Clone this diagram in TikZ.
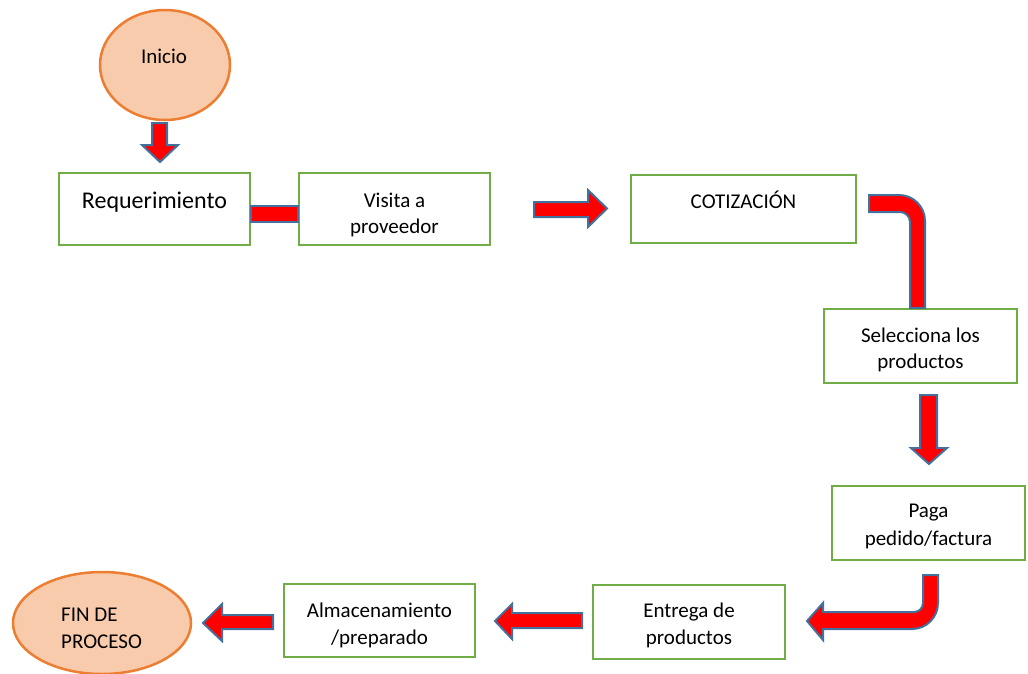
\documentclass[tikz,border=0pt]{standalone}
\usepackage{fontspec}
\setmainfont{Carlito}
\usetikzlibrary{shapes.geometric}
\definecolor{boxgreen}{HTML}{70AD47}
\definecolor{ovalfill}{HTML}{F8CBAD}
\definecolor{ovaldraw}{HTML}{ED7D31}
\definecolor{arrblue}{HTML}{41719C}
\tikzset{
  box/.style={draw=boxgreen, line width=2.5pt, fill=white, inner sep=0pt},
  oval/.style={ellipse, draw=ovaldraw, fill=ovalfill, line width=2.5pt, inner sep=0pt},
  txt/.style={font=\fontsize{21}{26}\selectfont, inner sep=0pt, anchor=base},
  bigtxt/.style={font=\fontsize{24}{29}\selectfont, inner sep=0pt, anchor=base},
  blockarrow/.style={fill=red, draw=arrblue, line width=2pt, line join=miter}
}
\begin{document}
\begin{tikzpicture}[x=1pt,y=-1pt]
\useasboundingbox (0,0) rectangle (1028,673);
% ovals
\node[oval, minimum width=130, minimum height=110] (inicio) at (165,65) {};
\node[txt] (iniciot) at (164,63) {Inicio};
\node[oval, minimum width=178, minimum height=102] (fin) at (102,623) {};
\node[txt, anchor=base west] (fint1) at (61,621) {FIN DE};
\node[txt, anchor=base west] (fint2) at (61,648) {PROCESO};
% boxes
\node[box, minimum width=191, minimum height=72] (req) at (154.5,209) {};
\node[bigtxt] (reqt) at (154.5,208) {Requerimiento};
\node[box, minimum width=191, minimum height=72] (vis) at (394.5,209) {};
\node[txt] (vist1) at (394.5,207) {Visita a};
\node[txt] (vist2) at (394.5,233) {proveedor};
\node[box, minimum width=225, minimum height=68] (cot) at (743.5,209) {};
\node[txt] (cott) at (743.5,208) {COTIZACIÓN};
\node[box, minimum width=193, minimum height=74] (sel) at (920.5,346) {};
\node[txt] (selt1) at (920.5,342) {Selecciona los};
\node[txt] (selt2) at (920.5,368) {productos};
\node[box, minimum width=193, minimum height=74] (paga) at (928.5,523) {};
\node[txt] (pagat1) at (928.5,517) {Paga};
\node[txt] (pagat2) at (928.5,545) {pedido/factura};
\node[box, minimum width=192, minimum height=74] (ent) at (689,622) {};
\node[txt] (entt1) at (689,617) {Entrega de};
\node[txt] (entt2) at (689,644) {productos};
\node[box, minimum width=191, minimum height=73] (alm) at (379.5,620.5) {};
\node[txt] (almt1) at (379.5,617) {Almacenamiento};
\node[txt] (almt2) at (379.5,644) {/preparado};
% block arrows
% Inicio -> Requerimiento
\draw[blockarrow] (152,123) -- (167,123) -- (167,145) -- (178,145) -- (160,162)
  -- (142,145) -- (152,145) -- cycle;
% Requerimiento -- Visita
\draw[blockarrow] (req.east |- 0,205.5) rectangle (vis.west |- 0,221.5);
% Visita -> Cotizacion
\draw[blockarrow] (534,202) -- (588,202) -- (588,190) -- (607,208.5) -- (588,227)
  -- (588,217) -- (534,217) -- cycle;
% Cotizacion -> Selecciona (bent)
\draw[blockarrow] (869,195) -- (899,195) .. controls (913.4,195) and (925,206.6) .. (925,221)
  -- (sel.north -| 925,0) -- (sel.north -| 910,0) -- (910,222)
  .. controls (910,216.5) and (905.5,212) .. (900,212) -- (869,212) -- cycle;
% Selecciona -> Paga
\draw[blockarrow] (920,395) -- (937,395) -- (937,448) -- (947,448) -- (929,464)
  -- (911,448) -- (920,448) -- cycle;
% Paga -> Entrega (bent)
\draw[blockarrow] (923,575) -- (938,575) -- (938,603) .. controls (938,617.4) and (926.4,629) .. (912,629)
  -- (823,629) -- (823,640) -- (807,621) -- (823,603) -- (823,612) -- (914,612)
  .. controls (919,612) and (923,608) .. (923,603) -- cycle;
% Entrega -> Almacenamiento
\draw[blockarrow] (582,613) -- (582,628) -- (512,628) -- (512,639) -- (495,621)
  -- (512,604) -- (512,613) -- cycle;
% Almacenamiento -> Fin
\draw[blockarrow] (273,615) -- (273,629) -- (222,629) -- (222,641) -- (203,623)
  -- (222,604) -- (222,615) -- cycle;
\end{tikzpicture}
\end{document}
